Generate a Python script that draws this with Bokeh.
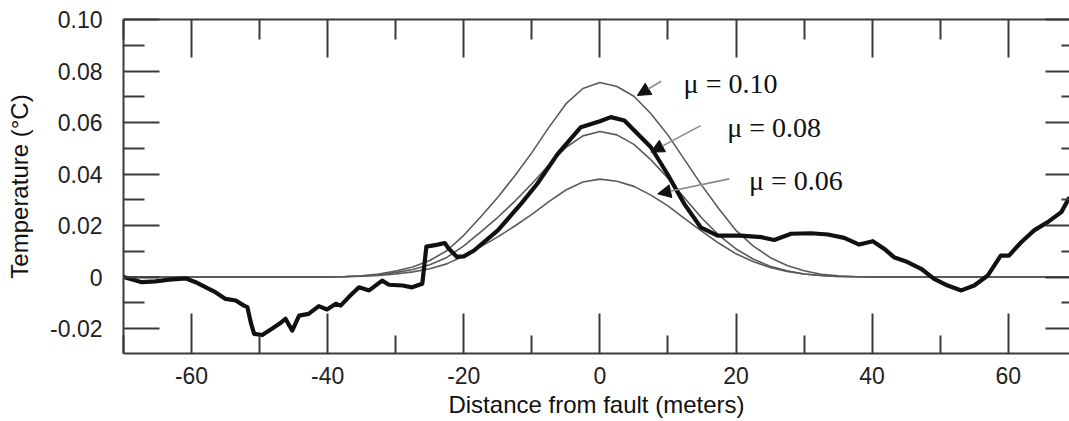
from bokeh.plotting import figure
from bokeh.models import (Range1d, LinearAxis, FixedTicker, ColumnDataSource,
                          Arrow, NormalHead, CustomLabelingPolicy)
from bokeh.core.properties import value
from bokeh.embed import file_html
from bokeh.resources import INLINE

# ---------------- data ----------------
x_theory = [-70, -40, -37.5, -35, -32.5, -30, -27.5, -25, -22.5, -20, -17.5, -15,
            -12.5, -10, -7.5, -5, -2.5, 0, 2.5, 5, 7.5, 10, 12.5, 15, 17.5, 20,
            22.5, 25, 27.5, 30, 32.5, 35, 37.5, 40, 70]
t_mu010 = [0.0, 0.0, 0.0002, 0.0005, 0.0012, 0.0023, 0.0039, 0.0064, 0.0102, 0.0162,
           0.0234, 0.0310, 0.0393, 0.0483, 0.0581, 0.0672, 0.0732, 0.0755, 0.0740,
           0.0702, 0.0634, 0.0551, 0.0453, 0.0355, 0.0264, 0.0181, 0.0121, 0.0076,
           0.0045, 0.0024, 0.0011, 0.0005, 0.0002, 0.0, 0.0]
t_mu008 = [0.0, 0.0, 0.0001, 0.0004, 0.0009, 0.0017, 0.0029, 0.0048, 0.0076, 0.0121,
           0.0175, 0.0232, 0.0294, 0.0362, 0.0435, 0.0503, 0.0548, 0.0565, 0.0552,
           0.0515, 0.0455, 0.0384, 0.0305, 0.0228, 0.0162, 0.0109, 0.0070, 0.0042,
           0.0024, 0.0012, 0.0006, 0.0002, 0.0001, 0.0, 0.0]
t_mu006 = [0.0, 0.0, 0.0001, 0.0003, 0.0006, 0.0012, 0.0020, 0.0032, 0.0051, 0.0082,
           0.0118, 0.0156, 0.0198, 0.0243, 0.0293, 0.0338, 0.0369, 0.0380, 0.0372,
           0.0352, 0.0318, 0.0276, 0.0226, 0.0177, 0.0131, 0.0090, 0.0060, 0.0037,
           0.0022, 0.0012, 0.0006, 0.0002, 0.0001, 0.0, 0.0]

x_obs = [-70.0, -68.7, -67.3, -65.3, -63.3, -60.9, -59.4, -57.9, -56.5, -55.0, -53.5,
         -52.3, -51.8, -51.3, -50.8, -49.6, -48.2, -47.0, -46.2, -45.2, -44.2, -42.8,
         -41.3, -40.1, -38.8, -38.1, -36.9, -35.4, -33.9, -32.0, -31.0, -29.0, -27.6,
         -26.1, -25.8, -25.5, -24.0, -22.8, -22.2, -21.0, -20.0, -18.5, -15.0, -11.6,
         -9.2, -6.2, -2.8, 0.0, 1.6, 3.6, 7.5, 9.9, 12.4, 14.8, 17.3, 20.7, 23.7, 25.6,
         28.1, 31.0, 33.5, 35.9, 38.1, 40.1, 41.8, 43.2, 45.2, 47.2, 49.1, 51.1, 53.1,
         55.0, 57.0, 58.9, 60.1, 61.9, 63.8, 65.8, 67.8, 69.0]
y_obs = [0.0, -0.0010, -0.0020, -0.0017, -0.0010, -0.0005, -0.0020, -0.0040, -0.0059,
         -0.0085, -0.0091, -0.0111, -0.0117, -0.0176, -0.0221, -0.0225, -0.0201, -0.0180,
         -0.0162, -0.0208, -0.0150, -0.0143, -0.0113, -0.0126, -0.0104, -0.0111, -0.0078,
         -0.0040, -0.0052, -0.0014, -0.0030, -0.0033, -0.0040, -0.0026, 0.0045, 0.0118,
         0.0125, 0.0132, 0.0110, 0.0078, 0.0080, 0.0103, 0.0181, 0.0284, 0.0362, 0.0478,
         0.0582, 0.0605, 0.0621, 0.0608, 0.0504, 0.0401, 0.0284, 0.0193, 0.0161, 0.0161,
         0.0155, 0.0144, 0.0168, 0.0170, 0.0165, 0.0152, 0.0126, 0.0139, 0.0109, 0.0077,
         0.0058, 0.0032, -0.0007, -0.0033, -0.0052, -0.0033, 0.0006, 0.0083, 0.0083,
         0.0135, 0.0181, 0.0213, 0.0252, 0.0310]

mu_labels = ["\u03bc = 0.10", "\u03bc = 0.08", "\u03bc = 0.06"]
mu_label_x = [12.3, 18.7, 21.9]
mu_label_y = [0.0752, 0.0580, 0.0376]
arrow_x_start = [9.0, 14.8, 19.0]
arrow_y_start = [0.0760, 0.0588, 0.0381]
arrow_x_end = [5.5, 7.5, 8.5]
arrow_y_end = [0.0705, 0.0485, 0.0323]

x_ticks = [-60, -40, -20, 0, 20, 40, 60]
x_tick_labels = ["-60", "-40", "-20", "0", "20", "40", "60"]
x_minor = [-70, -50, -30, -10, 10, 30, 50, 70]
y_ticks = [-0.02, 0, 0.02, 0.04, 0.06, 0.08, 0.1]
y_tick_labels = ["-0.02", "0", "0.02", "0.04", "0.06", "0.08", "0.10"]
y_minor = [-0.03, -0.01, 0.01, 0.03, 0.05, 0.07, 0.09]

x_title = "Distance from fault (meters)"
y_title = "Temperature (\u00b0C)"

# ---------------- figure ----------------
p = figure(width=1069, height=421, output_backend="svg", toolbar_location=None,
           x_range=Range1d(-70, 69.0), y_range=Range1d(-0.0297, 0.10),
           x_axis_location=None, y_axis_location=None)
p.min_border_left = 123
p.min_border_right = 0
p.min_border_top = 19
p.min_border_bottom = 68
p.outline_line_color = None
p.grid.visible = False
p.background_fill_color = "white"
p.border_fill_color = "white"

AX = "#3a3a3a"
LABEL_FONT = "Liberation Sans"
hide_labels = CustomLabelingPolicy(code="for (const i of [...indices]) { indices.unset(i) }\nreturn indices")


def make_axis(ticks, minor, labels, show_labels, tick_in, minor_in, line=True):
    ax = LinearAxis(ticker=FixedTicker(ticks=ticks, minor_ticks=minor))
    ax.major_label_overrides = {t: l for t, l in zip(ticks, labels)}
    ax.major_tick_in = tick_in
    ax.major_tick_out = 0
    ax.minor_tick_in = minor_in
    ax.minor_tick_out = 0
    ax.major_tick_line_color = AX
    ax.minor_tick_line_color = AX
    ax.major_tick_line_width = 2
    ax.minor_tick_line_width = 2
    ax.axis_line_color = AX if line else None
    ax.axis_line_width = 2
    if show_labels:
        ax.major_label_text_font = LABEL_FONT
        ax.major_label_text_font_size = "23px"
        ax.major_label_text_color = "#222222"
    else:
        ax.major_label_text_font_size = "0px"
        ax.major_label_standoff = 0
        ax.major_label_policy = hide_labels
    return ax


bottom = make_axis(x_ticks, x_minor, x_tick_labels, True, 40, 18)
bottom.major_label_standoff = 13
bottom.axis_label = x_title
bottom.axis_label_text_font = LABEL_FONT
bottom.axis_label_text_font_size = "24px"
bottom.axis_label_text_font_style = "normal"
bottom.axis_label_text_color = "#111111"
bottom.axis_label_standoff = 4
p.add_layout(bottom, "below")

top = make_axis(x_ticks, x_minor, x_tick_labels, False, 38, 20)
p.add_layout(top, "above")

left = make_axis(y_ticks, y_minor, y_tick_labels, True, 36, 21)
left.major_label_standoff = 21
left.axis_label = y_title
left.axis_label_text_font = LABEL_FONT
left.axis_label_text_font_size = "24px"
left.axis_label_text_font_style = "normal"
left.axis_label_text_color = "#111111"
left.axis_label_standoff = 14
p.add_layout(left, "left")

right = make_axis(y_ticks, y_minor, y_tick_labels, False, 24, 8, line=False)
p.add_layout(right, "right")

# theoretical curves
for ys in (t_mu006, t_mu008, t_mu010):
    p.line(x_theory, ys, line_color="#5a5a5a", line_width=1.6)

# observed profile
p.line(x_obs, y_obs, line_color="#111111", line_width=4.2, line_join="round")

# arrows
arr_src = ColumnDataSource(dict(xs=arrow_x_start, ys=arrow_y_start,
                                xe=arrow_x_end, ye=arrow_y_end))
p.add_layout(Arrow(end=NormalHead(size=13, fill_color="#111111", line_color="#111111",
                                  line_width=1),
                   x_start="xs", y_start="ys", x_end="xe", y_end="ye", source=arr_src,
                   line_color="#8a8a8a", line_width=1.6))

# labels
lab_src = ColumnDataSource(dict(x=mu_label_x, y=mu_label_y, t=mu_labels))
p.text(x="x", y="y", text="t", source=lab_src, text_font=value("Liberation Serif"),
       text_font_size="28px", text_color="#111111", text_align="left",
       text_baseline="alphabetic")

open("out.html", "w").write(file_html(p, INLINE))
